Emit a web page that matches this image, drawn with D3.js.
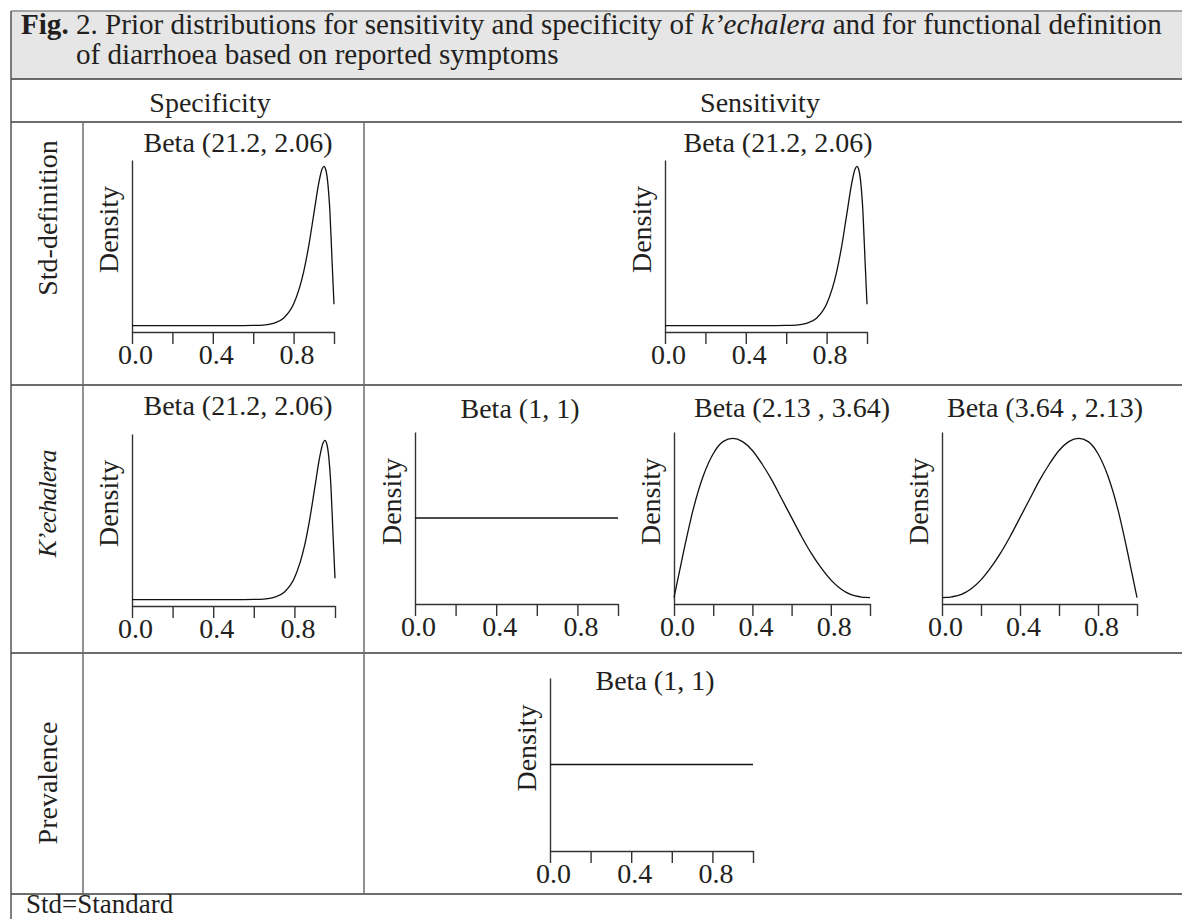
<!DOCTYPE html>
<html><head><meta charset="utf-8">
<script src="https://cdn.jsdelivr.net/npm/d3@7"></script>
<style>
body{margin:0;background:#fff}
svg{display:block}
text{font-family:"Liberation Serif","Times New Roman",serif;fill:#231f20}
</style>
</head><body>
<svg id="c" width="1182" height="919"></svg>
<script>
// ---------------- data ----------------
const colHeaders = ["Specificity", "Sensitivity"];
const rowHeaders = ["Std-definition", "K\u2019echalera", "Prevalence"];
const tickValues = [0, 0.2, 0.4, 0.6, 0.8, 1.0];
const tickLabels = ["0.0", "", "0.4", "", "0.8", ""];
const yAxisTitle = "Density";
const footnote = "Std=Standard";

// Beta(21.2, 2.06) density
const xBeta21 = [0, 0.1, 0.2, 0.3, 0.4, 0.5, 0.6, 0.65, 0.7, 0.75, 0.8, 0.85, 0.875, 0.9, 0.925, 0.94, 0.95, 0.96, 0.97, 0.98, 0.99, 1.0];
const dBeta21 = [0, 0, 0, 0, 0, 0, 0.01, 0.03, 0.12, 0.38, 1.11, 2.78, 4.11, 5.74, 7.36, 8.04, 8.2, 8.0, 7.27, 5.82, 3.42, 1.1];
// Beta(2.13, 3.64) and Beta(3.64, 2.13)
const xBetaMid = [0, 0.025, 0.05, 0.1, 0.15, 0.2, 0.25, 0.3, 0.35, 0.4, 0.45, 0.5, 0.55, 0.6, 0.65, 0.7, 0.75, 0.8, 0.85, 0.9, 0.95, 0.975, 1.0];
const dBeta213 = [0, 0.29, 0.58, 1.11, 1.51, 1.78, 1.93, 1.97, 1.93, 1.82, 1.65, 1.45, 1.22, 0.99, 0.76, 0.55, 0.37, 0.22, 0.11, 0.04, 0.01, 0.002, 0];
const dBeta364 = [0, 0.002, 0.01, 0.04, 0.11, 0.22, 0.37, 0.55, 0.76, 0.99, 1.22, 1.45, 1.65, 1.82, 1.93, 1.97, 1.93, 1.78, 1.51, 1.11, 0.58, 0.29, 0];
// Beta(1, 1)
const xUnif = [0, 1];
const dUnif = [1, 1];

const seriesList = [
  {name: "Beta (21.2, 2.06)", x: xBeta21, d: dBeta21},
  {name: "Beta (1, 1)", x: xUnif, d: dUnif},
  {name: "Beta (2.13 , 3.64)", x: xBetaMid, d: dBeta213},
  {name: "Beta (3.64 , 2.13)", x: xBetaMid, d: dBeta364}
];

// ---------------- layout ----------------
const W = 1182, H = 919;
const tableLeft = 11;
const hLines = [11, 79, 122, 385, 653, 894];
const colLines = [83, 364];
const panels = [
  {s: 0, x0: 132, x1: 334, top: 160, axisY: 332, lx: 238, ly: 152},
  {s: 0, x0: 665, x1: 867, top: 160, axisY: 332, lx: 778, ly: 152},
  {s: 0, x0: 132, x1: 335, top: 434, axisY: 606, lx: 238, ly: 415},
  {s: 1, x0: 415, x1: 618, top: 432, axisY: 604, lx: 520, ly: 418},
  {s: 2, x0: 674, x1: 870, top: 432, axisY: 604, lx: 792, ly: 417},
  {s: 3, x0: 942, x1: 1137, top: 432, axisY: 604, lx: 1045, ly: 417},
  {s: 1, x0: 550, x1: 753, top: 678, axisY: 851, lx: 655, ly: 690}
];
const FS = 28;

const svg = d3.select("#c");

// title box
svg.append("rect").attr("x", tableLeft).attr("y", hLines[0]).attr("width", W - tableLeft).attr("height", hLines[1] - hLines[0]).attr("fill", "#e6e6e6");
svg.append("line").attr("x1", tableLeft).attr("x2", W).attr("y1", hLines[0]).attr("y2", hLines[0]).attr("stroke", "#8a8a8a").attr("stroke-width", 1.6);
hLines.slice(1).forEach(y => {
  svg.append("line").attr("x1", tableLeft).attr("x2", W).attr("y1", y).attr("y2", y).attr("stroke", "#3c3c3c").attr("stroke-width", 1.5);
});
svg.append("line").attr("x1", tableLeft).attr("x2", tableLeft).attr("y1", hLines[0]).attr("y2", H).attr("stroke", "#555").attr("stroke-width", 1.5);
colLines.forEach(x => {
  svg.append("line").attr("x1", x).attr("x2", x).attr("y1", hLines[2]).attr("y2", hLines[5]).attr("stroke", "#6e6e6e").attr("stroke-width", 1.5);
});

// title text
const t1 = svg.append("text").attr("x", 21).attr("y", 34).style("font-size", "25px");
t1.append("tspan").attr("font-weight", "bold").text("Fig.");
t1.append("tspan").text(" 2. Prior distributions for sensitivity and specificity of ");
t1.append("tspan").attr("font-style", "italic").text("k\u2019echalera");
t1.append("tspan").text(" and for functional definition");
const w1 = t1.node().getComputedTextLength();
const tfs = 25 * 1141 / w1;
t1.style("font-size", tfs + "px");
const indent = t1.node().getSubStringLength(0, 5);
svg.append("text").attr("x", 21 + indent).attr("y", 64).style("font-size", tfs + "px").text("of diarrhoea based on reported symptoms");

// column headers
[[210, colHeaders[0]], [760, colHeaders[1]]].forEach(([cx, t]) => {
  svg.append("text").attr("x", cx).attr("y", 112).attr("text-anchor", "middle").style("font-size", FS + "px").text(t);
});
// row headers
[[218, rowHeaders[0], "normal", FS, 0], [504, rowHeaders[1], "italic", 26, -1], [783, rowHeaders[2], "normal", FS, 0]].forEach(([cy, t, st, fs, ls]) => {
  svg.append("text").attr("transform", `translate(47,${cy}) rotate(-90)`).attr("text-anchor", "middle")
    .attr("dominant-baseline", "central").attr("font-style", st).attr("letter-spacing", ls)
    .style("font-size", fs + "px").text(t);
});

// panels
panels.forEach(p => {
  const s = seriesList[p.s];
  const g = svg.append("g");
  const x = d3.scaleLinear().domain([0, 1]).range([p.x0, p.x1]);
  let lo = d3.min(s.d), hi = d3.max(s.d);
  if (hi === lo) { lo -= 1; hi += 1; }
  const pad = (hi - lo) * 0.04;
  const y = d3.scaleLinear().domain([lo - pad, hi + pad]).range([p.axisY, p.top]);

  g.append("g").attr("transform", `translate(0,${p.axisY})`)
    .call(d3.axisBottom(x).tickValues(tickValues).tickFormat((d, i) => tickLabels[i]).tickSizeInner(12).tickSizeOuter(0))
    .call(a => {
      a.select(".domain").attr("stroke", "#333").attr("stroke-width", 1.4);
      a.selectAll(".tick line").attr("stroke", "#333").attr("stroke-width", 1.4);
      a.selectAll(".tick text").attr("x", 3).attr("y", 32).attr("dy", 0).style("font-size", FS + "px").attr("fill", "#231f20");
    });
  g.append("g").attr("transform", `translate(${p.x0},0)`)
    .call(d3.axisLeft(y).tickValues([]).tickSizeOuter(0))
    .call(a => a.select(".domain").attr("stroke", "#333").attr("stroke-width", 1.4));

  const pts = s.x.map((v, i) => [v, s.d[i]]);
  g.append("path").datum(pts)
    .attr("d", d3.line().x(d => x(d[0])).y(d => y(d[1])).curve(d3.curveMonotoneX))
    .attr("fill", "none").attr("stroke", "#111").attr("stroke-width", 1.3);

  g.append("text").attr("x", p.lx).attr("y", p.ly).attr("text-anchor", "middle").style("font-size", FS + "px").text(s.name);
  const mid = (p.top + p.axisY) / 2 - 16.5;
  g.append("text").attr("transform", `translate(${p.x0 - 24},${mid}) rotate(-90)`).attr("text-anchor", "middle")
    .attr("dominant-baseline", "central").style("font-size", FS + "px").text(yAxisTitle);
});

// footnote
svg.append("text").attr("x", 26).attr("y", 913).style("font-size", "27px").text(footnote);
</script>
</body></html>
